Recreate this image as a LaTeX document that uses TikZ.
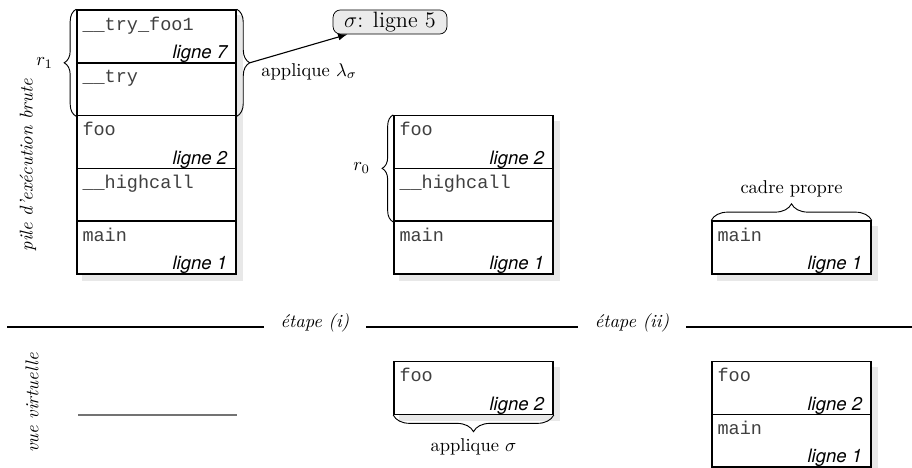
\documentclass[tikz,border=0pt]{standalone}
\usepackage{fontspec}
\setmonofont{Liberation Mono}
\setsansfont{TeX Gyre Heros}
\usetikzlibrary{arrows.meta,decorations.pathreplacing,backgrounds}

\tikzset{
  cadre/.style={draw, line width=0.8pt, minimum width=85.9pt, minimum height=28.5pt, inner sep=0pt},
  nom/.style={anchor=base west, xshift=3.2pt, yshift=-11.3pt, inner sep=0pt, font=\ttfamily, text=black!75},
  num/.style={anchor=base east, xshift=-5pt, yshift=2.7pt, inner sep=0pt, font=\sffamily\itshape},
  ombre/.style={fill=black!9},
  accolade/.style={decorate, decoration={brace, amplitude=#1}, line width=0.5pt},
  sigma/.style={draw, rounded corners=4pt, fill=black!8, minimum width=61.5pt, minimum height=13pt, inner sep=1pt, font=\large},
  fleche/.style={-{Latex[length=5pt]}, line width=0.6pt},
  etape/.style={anchor=base, fill=white, inner xsep=9pt, font=\itshape},
  vide/.style={draw=black!55, line width=0.9pt},
}

\begin{document}
\begin{tikzpicture}[x=0.54pt,y=-0.54pt]
  \useasboundingbox (0,0) rectangle (912,468);

  % pile d'execution brute
  \node[cadre] (a1) at (156.5,36.4) {};
  \node[cadre] (a2) at (156.5,89.2) {};
  \node[cadre] (a3) at (156.5,142) {};
  \node[cadre] (a4) at (156.5,194.8) {};
  \node[cadre] (a5) at (156.5,247.6) {};
  \node[nom] (a1n) at (a1.north west) {\_\_try\_foo1};
  \node[num] (a1l) at (a1.south east) {ligne 7};
  \node[nom] (a2n) at (a2.north west) {\_\_try};
  \node[nom] (a3n) at (a3.north west) {foo};
  \node[num] (a3l) at (a3.south east) {ligne 2};
  \node[nom] (a4n) at (a4.north west) {\_\_highcall};
  \node[nom] (a5n) at (a5.north west) {main};
  \node[num] (a5l) at (a5.south east) {ligne 1};

  \draw[accolade=6.5pt] (a2.south west) -- (a1.north west) node[midway, left=9pt] (r1) {$r_1$};
  \draw[accolade=7pt] (a1.north east) -- (a2.south east) coordinate[midway, xshift=7pt] (lam);
  \node[sigma] (sig) at (390,22) {$\sigma$: ligne 5};
  \draw[fleche] (lam) -- (sig) node[pos=0, anchor=north west, xshift=6pt, inner sep=0pt] (app) {applique $\lambda_\sigma$};

  % etape (i)
  \node[cadre] (b1) at (473.5,142) {};
  \node[cadre] (b2) at (473.5,194.8) {};
  \node[cadre] (b3) at (473.5,247.6) {};
  \node[nom] (b1n) at (b1.north west) {foo};
  \node[num] (b1l) at (b1.south east) {ligne 2};
  \node[nom] (b2n) at (b2.north west) {\_\_highcall};
  \node[nom] (b3n) at (b3.north west) {main};
  \node[num] (b3l) at (b3.south east) {ligne 1};
  \draw[accolade=6pt] (b2.south west) -- (b1.north west) node[midway, left=9pt] (r0) {$r_0$};

  % etape (ii)
  \node[cadre] (c1) at (791.5,247.6) {};
  \node[nom] (c1n) at (c1.north west) {main};
  \node[num] (c1l) at (c1.south east) {ligne 1};
  \draw[accolade=9pt] (c1.north west) -- (c1.north east) node[midway, above=9pt] (propre) {cadre propre};

  \node[rotate=90, font=\itshape] (pile) at (28,165) {pile d'exécution brute};

  % separation
  \coordinate (gauche) at (7,327);
  \coordinate (droite) at (912,327);
  \draw[line width=0.8pt] (gauche) -- (droite);
  \node[etape] (e1) at (315,327) {étape (i)};
  \node[etape] (e2) at (632,327) {étape (ii)};

  % vue virtuelle
  \node[rotate=90, font=\itshape] (vue) at (32,403) {vue virtuelle};
  \coordinate (v1) at (78,415);
  \coordinate (v2) at (237,415);
  \draw[vide] (v1) -- (v2);

  \node[cadre] (d1) at (473.5,387.9) {};
  \node[nom] (d1n) at (d1.north west) {foo};
  \node[num] (d1l) at (d1.south east) {ligne 2};
  \draw[accolade=9pt] (d1.south east) -- (d1.south west) node[midway, below=9pt] (appsig) {applique $\sigma$};

  \node[cadre] (f1) at (791.5,387.9) {};
  \node[cadre] (f2) at (791.5,440.7) {};
  \node[nom] (f1n) at (f1.north west) {foo};
  \node[num] (f1l) at (f1.south east) {ligne 2};
  \node[nom] (f2n) at (f2.north west) {main};
  \node[num] (f2l) at (f2.south east) {ligne 1};

  % ombres
  \begin{scope}[on background layer]
    \fill[ombre] ([shift={(6,6)}]a1.north west) rectangle ([shift={(6,6)}]a5.south east);
    \fill[ombre] ([shift={(6,6)}]b1.north west) rectangle ([shift={(6,6)}]b3.south east);
    \fill[ombre] ([shift={(6,6)}]c1.north west) rectangle ([shift={(6,6)}]c1.south east);
    \fill[ombre] ([shift={(6,6)}]d1.north west) rectangle ([shift={(6,6)}]d1.south east);
    \fill[ombre] ([shift={(6,6)}]f1.north west) rectangle ([shift={(6,6)}]f2.south east);
    \fill[white] (a1.north west) rectangle (a5.south east);
    \fill[white] (b1.north west) rectangle (b3.south east);
    \fill[white] (c1.north west) rectangle (c1.south east);
    \fill[white] (d1.north west) rectangle (d1.south east);
    \fill[white] (f1.north west) rectangle (f2.south east);
  \end{scope}
\end{tikzpicture}
\end{document}
